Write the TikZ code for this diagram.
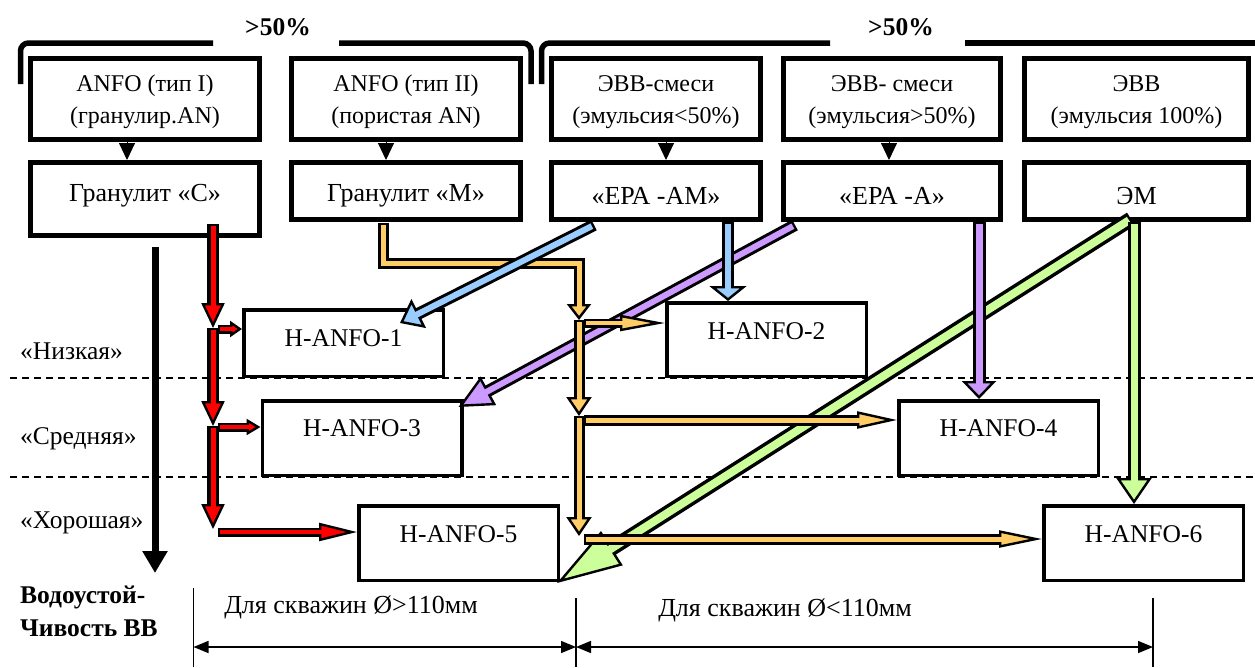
\documentclass[tikz,border=0pt]{standalone}
\usepackage{fontspec}
\setmainfont{Liberation Serif}
\usetikzlibrary{arrows.meta,calc}

\definecolor{cred}{RGB}{255,0,0}
\definecolor{corange}{RGB}{255,204,102}
\definecolor{cblue}{RGB}{153,204,255}
\definecolor{cpurple}{RGB}{204,153,255}
\definecolor{cgreen}{RGB}{204,255,153}

% #1 colour, #2 outer width, #3 inner width, #4 head length, #5 head width, #6 path
\newcommand\fatarrow[6]{%
  \draw[line width=#2pt, line join=miter, -{Triangle[length=#4pt,width=#5pt,fill=#1,line width=2.4pt]}] #6;
  \draw[line width=#3pt, line join=miter, draw=#1, shorten >=#4pt-3pt, shorten <=2.4pt] #6;
}

\begin{document}
\begin{tikzpicture}[x=1pt,y=-1pt,
  topbox/.style={draw, line width=5pt, fill=white, inner sep=0pt},
  ttxt/.style={font=\fontsize{24}{32}\selectfont, inner sep=0pt, align=center},
  rtxt/.style={font=\fontsize{26}{30}\selectfont, inner sep=0pt},
  hbox/.style={draw, line width=3.5pt, fill=white, inner sep=0pt, minimum width=199.5pt},
  txt/.style={font=\fontsize{26}{30}\selectfont, inner sep=0pt},
  htxt/.style={font=\fontsize{25.5}{30}\selectfont, inner sep=0pt},
  btxt/.style={font=\bfseries\fontsize{25.5}{30}\selectfont, inner sep=0pt},
  brace/.style={line width=5.5pt, rounded corners=8pt},
  dashline/.style={line width=1.5pt, dash pattern=on 7pt off 5pt},
  ptr/.style={line width=1pt, -{Triangle[length=17pt,width=16pt]}},
  dimline/.style={line width=1.5pt},
  dimarrow/.style={line width=1.5pt, {Triangle[length=15pt,width=12pt]}-{Triangle[length=15pt,width=12pt]}},
]
\useasboundingbox (0,0) rectangle (1255,667);

% dashed level lines
\draw[dashline] (10,378) -- (1255,378);
\draw[dashline] (10,477) -- (1255,477);

% braces
\draw[brace] (20.5,84) -- (20.5,43) -- (213,43);
\draw[brace] (339,43) -- (531,43) -- (531,84);
\draw[brace] (541.5,84) -- (541.5,43) -- (830,43);
\draw[brace] (965,43) -- (1258,43);
\node[btxt] (p1) at (278,27) {>50\%};
\node[btxt] (p2) at (901,27) {>50\%};

% top row
\node[topbox, minimum width=229pt, minimum height=81pt] (a1) at (145,99) {};
\node[topbox, minimum width=229pt, minimum height=81pt] (a2) at (406,99) {};
\node[topbox, minimum width=209pt, minimum height=81pt] (a3) at (656,99) {};
\node[topbox, minimum width=217pt, minimum height=81pt] (a4) at (892,99) {};
\node[topbox, minimum width=224pt, minimum height=81pt] (a5) at (1136.5,99) {};
\node[ttxt] (a1t) at (145,102) {ANFO (тип I)\\(гранулир.AN)};
\node[ttxt] (a2t) at (406,102) {ANFO (тип II)\\(пористая AN)};
\node[ttxt] (a3t) at (656,102) {ЭВВ-смеси\\(эмульсия<50\%)};
\node[ttxt] (a4t) at (892,102) {ЭВВ- смеси\\(эмульсия>50\%)};
\node[ttxt] (a5t) at (1136.5,102) {ЭВВ\\(эмульсия 100\%)};

% second row
\node[topbox, minimum width=229pt, minimum height=73pt] (b1) at (145,199) {};
\node[topbox, minimum width=229pt, minimum height=57pt] (b2) at (406,191) {};
\node[topbox, minimum width=209pt, minimum height=57pt] (b3) at (656,191) {};
\node[topbox, minimum width=217pt, minimum height=57pt] (b4) at (892,191) {};
\node[topbox, minimum width=224pt, minimum height=57pt] (b5) at (1136.5,191) {};
\node[rtxt] (b1t) at (145,196) {Гранулит «С»};
\node[rtxt] (b2t) at (406,196) {Гранулит «М»};
\node[rtxt] (b3t) at (656,196) {«ЕРА -АМ»};
\node[rtxt] (b4t) at (892,196) {«ЕРА -А»};
\node[rtxt] (b5t) at (1136.5,196) {ЭМ};

% pointers
\draw[ptr] ($(a1.south)+(-18,0)$) -- ($(b1.north)+(-18,0)$);
\draw[ptr] ($(a2.south)+(-20,0)$) -- ($(b2.north)+(-20,0)$);
\draw[ptr] ($(a3.south)+(10,0)$) -- ($(b3.north)+(10,0)$);
\draw[ptr] ($(a4.south)+(-3,0)$) -- ($(b4.north)+(-3,0)$);

% H boxes
\node[hbox, minimum height=66.5pt] (h1) at (343.5,343) {};
\node[hbox, minimum height=73.5pt] (h2) at (766.5,339.5) {};
\node[hbox, minimum height=74.5pt] (h3) at (362,438) {};
\node[hbox, minimum height=74.5pt] (h4) at (998.5,438) {};
\node[hbox, minimum height=74.5pt] (h5) at (458.5,543) {};
\node[hbox, minimum height=74.5pt] (h6) at (1143.5,543) {};
\node[htxt] (h1t) at (343.5,338) {H-ANFO-1};
\node[htxt] (h2t) at (766.5,331) {H-ANFO-2};
\node[htxt] (h3t) at (362,428) {H-ANFO-3};
\node[htxt] (h4t) at (998.5,428) {H-ANFO-4};
\node[htxt] (h5t) at (458.5,534) {H-ANFO-5};
\node[htxt] (h6t) at (1143.5,534) {H-ANFO-6};

% row labels
\node[htxt, anchor=west] (l1) at (20,351) {«Низкая»};
\node[htxt, anchor=west] (l2) at (20,439) {«Средняя»};
\node[htxt, anchor=west] (l3) at (20,523) {«Хорошая»};

% water resistance arrow
\coordinate (wa) at (155,247);
\coordinate (wb) at (155,573);
\draw[line width=7pt, -{Triangle[length=22pt,width=24pt]}] (wa) -- (wb);
\node[btxt, anchor=west] (w1) at (20,597) {Водоустой-};
\node[btxt, anchor=west] (w2) at (20,628) {Чивость ВВ};

% dimension lines
\coordinate (t1a) at (193.5,588);
\coordinate (t1b) at (193.5,667);
\coordinate (t2a) at (576,598);
\coordinate (t2b) at (576,667);
\coordinate (t3a) at (1153,598);
\coordinate (t3b) at (1153,667);
\draw[dimline] (t1a) -- (t1b);
\draw[dimline] (t2a) -- (t2b);
\draw[dimline] (t3a) -- (t3b);
\coordinate (d1) at (193.5,647);
\coordinate (d2) at (576,647);
\coordinate (d3) at (1153,647);
\draw[dimarrow] (d1) -- (d2);
\draw[dimarrow] (d2) -- (d3);
\node[txt] (dt1) at (351,607) {Для скважин Ø>110мм};
\node[txt] (dt2) at (785,610) {Для скважин Ø<110мм};

% coordinates for coloured arrows
\coordinate (rs) at ($(b1.south)+(68,-14)$);
\coordinate (rj1) at (213,328);
\coordinate (rj2) at (213,426);
\coordinate (rj3) at (213,529);
\coordinate (rb1) at (218,329);
\coordinate (rb2) at (218,427);
\coordinate (rb3) at (218,532);

\coordinate (os) at ($(b2.south)+(-23,1)$);
\coordinate (ok1) at (383,263);
\coordinate (ok2) at (579,263);
\coordinate (oj1) at (579,320);
\coordinate (oj2) at (579,416);
\coordinate (oj3) at (579,536);
\coordinate (ob1) at (584,323);
\coordinate (ob2) at (584,420);
\coordinate (ob3) at (584,539);

\coordinate (bds) at ($(b3.south)+(-62,3)$);
\coordinate (bvs) at ($(b3.south)+(72,0)$);
\coordinate (pds) at ($(b4.south)+(-97,3)$);
\coordinate (pvs) at ($(b4.south)+(87,0)$);
\coordinate (gds) at ($(b5.south)+(-5.5,-3)$);
\coordinate (gvs) at ($(b5.south)+(-2.5,0)$);

% green diagonal
\fatarrow{cgreen}{15}{8}{65}{40}{(gds) -- ($(h5.south east)+(-3,1)$)}
% purple diagonal
\fatarrow{cpurple}{12}{6}{34}{32}{(pds) -- ($(h3.north east)+(-5,8)$)}
% orange
\fatarrow{corange}{11}{5}{16}{24}{(os) -- (ok1) -- (ok2) -- (oj1)}
\fatarrow{corange}{11}{5}{19}{25}{(oj1) -- (oj2)}
\fatarrow{corange}{11}{5}{19}{25}{(oj2) -- (oj3)}
\fatarrow{corange}{9}{4}{45}{16}{(ob1) -- (ob1 -| h2.west)}
\fatarrow{corange}{11}{5}{40}{17}{(ob2) -- (ob2 -| h4.west)}
\fatarrow{corange}{11}{5}{43}{17}{(ob3) -- (ob3 -| h6.west)}
% red
\fatarrow{cred}{12}{5}{25}{23}{(rs) -- (rj1)}
\fatarrow{cred}{12}{5}{25}{23}{(rj1) -- (rj2)}
\fatarrow{cred}{12}{5}{25}{23}{(rj2) -- (rj3)}
\fatarrow{cred}{9}{4}{12}{16}{(rb1) -- (rb1 -| h1.west)}
\fatarrow{cred}{9}{4}{14}{16}{(rb2) -- (rb2 -| h3.west)}
\fatarrow{cred}{9}{4}{38}{18}{(rb3) -- (rb3 -| h5.west)}
% blue
\fatarrow{cblue}{12}{6}{21}{32}{(bds) -- ($(h1.north east)+(-45,15)$)}
\fatarrow{cblue}{12}{6}{15}{37}{(bvs) -- (bvs |- h2.north)}
% purple vertical
\fatarrow{cpurple}{13}{7}{18}{34}{(pvs) -- (pvs |- h4.north)}
% green vertical
\fatarrow{cgreen}{13}{7}{26}{35}{(gvs) -- (gvs |- h6.north)}

\end{tikzpicture}
\end{document}
